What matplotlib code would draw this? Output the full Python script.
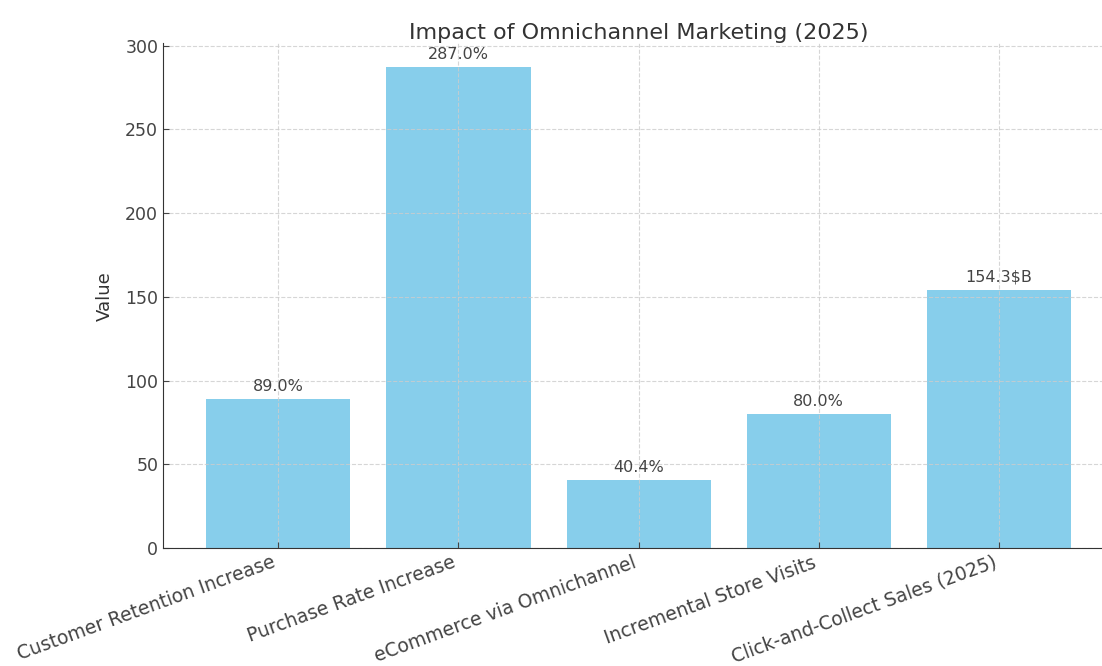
import matplotlib
matplotlib.use("Agg")
import matplotlib.pyplot as plt

categories = ["Customer Retention Increase", "Purchase Rate Increase",
              "eCommerce via Omnichannel", "Incremental Store Visits",
              "Click-and-Collect Sales (2025)"]
values = [89.0, 287.0, 40.4, 80.0, 154.3]
bar_labels = ["89.0%", "287.0%", "40.4%", "80.0%", "154.3$B"]

text_color = "#333333"
plt.rcParams["text.color"] = text_color
plt.rcParams["axes.labelcolor"] = text_color
plt.rcParams["xtick.color"] = "#444444"
plt.rcParams["ytick.color"] = "#444444"

fig = plt.figure(figsize=(11.02, 6.66), dpi=100)
ax = fig.add_axes([0.148, 0.177, 0.863, 0.758])

x = range(len(categories))
ax.bar(x, values, color="#87CEEB", width=0.8)

# value labels above each bar
for i, (v, lab) in enumerate(zip(values, bar_labels)):
    ax.text(i, v + 3, lab, ha="center", va="bottom", fontsize=11.5, color="#444444")

ax.set_xticks(list(x))
ax.set_xticklabels(categories, rotation=20, ha="right", fontsize=13.5)
ax.tick_params(axis="y", labelsize=12.5)
ax.tick_params(direction="in", length=4)
ax.set_ylabel("Value", fontsize=13, labelpad=8)
ax.set_title("Impact of Omnichannel Marketing (2025)", fontsize=16, pad=3)

ax.grid(True, linestyle="--", color="#cccccc", linewidth=0.8, alpha=0.8)
ax.spines["top"].set_visible(False)
ax.spines["right"].set_visible(False)
ax.spines["left"].set_color("#333333")
ax.spines["bottom"].set_color("#333333")

fig.savefig("out.png", dpi=100)
